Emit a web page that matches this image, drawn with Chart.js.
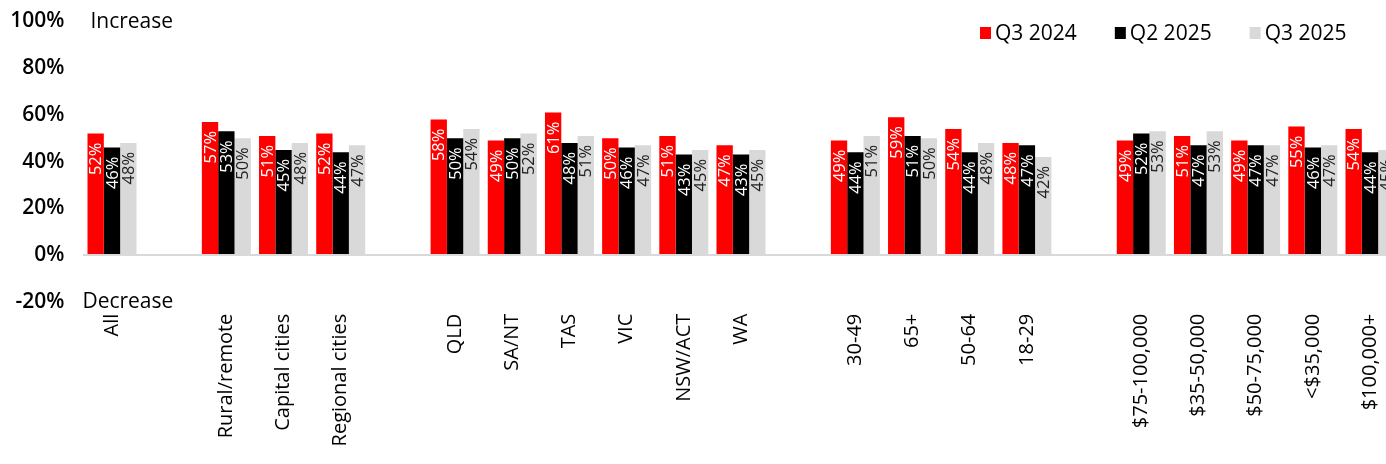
<!DOCTYPE html>
<html lang="en">
<head>
  <meta charset="UTF-8" />
  <title>Increase / Decrease by segment</title>
  <script src="https://cdn.jsdelivr.net/npm/chart.js"></script>
  <style>
    html, body {
      margin: 0;
      padding: 0;
      background: #fff;
      overflow: hidden;
    }
    .chart-box {
      position: relative;
      width: 1400px;
      height: 464px;
    }
  </style>
</head>
<body>
  <div class="chart-box">
    <canvas id="segChart"></canvas>
  </div>

  <script>
    // categories, blanks are the gaps between groups
    const categories = [
      "All", "",
      "Rural/remote", "Capital cities", "Regional cities", "",
      "QLD", "SA/NT", "TAS", "VIC", "NSW/ACT", "WA", "",
      "30-49", "65+", "50-64", "18-29", "",
      "$75-100,000", "$35-50,000", "$50-75,000", "<$35,000", "$100,000+"
    ];

    const q3_2024 = [52, null, 57, 51, 52, null, 58, 49, 61, 50, 51, 47, null, 49, 59, 54, 48, null, 49, 51, 49, 55, 54];
    const q2_2025 = [46, null, 53, 45, 44, null, 50, 50, 48, 46, 43, 43, null, 44, 51, 44, 47, null, 52, 47, 47, 46, 44];
    const q3_2025 = [48, null, 50, 48, 47, null, 54, 52, 51, 47, 45, 45, null, 51, 50, 48, 42, null, 53, 53, 47, 47, 45];

    const seriesNames = ["Q3 2024", "Q2 2025", "Q3 2025"];
    const seriesColors = ["#ff0000", "#000000", "#d9d9d9"];
    const labelColors = ["#ffffff", "#ffffff", "#222222"];

    const yTicks = [-20, 0, 20, 40, 60, 80, 100];

    const FONT = "'Open Sans', 'Noto Sans', sans-serif";

    // value labels written up the inside of each bar
    const barLabels = {
      id: "barLabels",
      afterDatasetsDraw(chart) {
        const ctx = chart.ctx;
        ctx.save();
        ctx.font = "16.5px " + FONT;
        ctx.textAlign = "right";
        ctx.textBaseline = "middle";
        chart.data.datasets.forEach((ds, i) => {
          const meta = chart.getDatasetMeta(i);
          meta.data.forEach((bar, j) => {
            const v = ds.data[j];
            if (v === null) return;
            ctx.save();
            ctx.translate(bar.x, bar.y + 9);
            ctx.rotate(-Math.PI / 2);
            ctx.fillStyle = labelColors[i];
            ctx.fillText(v + "%", 0, 1);
            ctx.restore();
          });
        });
        ctx.restore();
      }
    };

    // "Increase" / "Decrease" notes and the legend row
    const notes = {
      id: "notes",
      afterDraw(chart) {
        const ctx = chart.ctx;
        const y = chart.scales.y;
        const left = chart.chartArea.left;
        ctx.save();
        ctx.fillStyle = "#000";
        ctx.font = "21px " + FONT;
        ctx.textBaseline = "middle";
        ctx.textAlign = "left";
        ctx.fillText("Increase", left + 7, y.getPixelForValue(100) + 1);
        ctx.fillText("Decrease", left - 1, y.getPixelForValue(-20));

        let x = 980;
        const ly = 33;
        seriesNames.forEach((name, i) => {
          ctx.fillStyle = seriesColors[i];
          ctx.fillRect(x, ly - 6, 11, 12);
          ctx.fillStyle = "#000";
          ctx.fillText(name, x + 15, ly + 1);
          x += 15 + ctx.measureText(name).width + 38;
        });
        ctx.restore();
      }
    };

    new Chart(document.getElementById("segChart"), {
      type: "bar",
      data: {
        labels: categories,
        datasets: seriesNames.map((name, i) => ({
          label: name,
          data: [q3_2024, q2_2025, q3_2025][i],
          backgroundColor: seriesColors[i],
          borderWidth: 0,
          categoryPercentage: 0.857,
          barPercentage: 1
        }))
      },
      options: {
        responsive: true,
        maintainAspectRatio: false,
        animation: false,
        layout: { padding: { top: 21.5, right: 1.4, left: 0, bottom: 0 } },
        plugins: {
          legend: { display: false },
          tooltip: { enabled: false }
        },
        scales: {
          x: {
            grid: { display: false },
            border: { display: false },
            afterFit(scale) { scale.height = 162.3; },
            ticks: {
              autoSkip: false,
              maxRotation: 90,
              minRotation: 90,
              padding: 4,
              color: "#000",
              font: { family: FONT, size: 20, weight: "500" }
            }
          },
          y: {
            min: -20,
            max: 100,
            border: { display: false },
            afterFit(scale) {
              scale.width = 83.4;
              // tick padding would otherwise push the plot top down
              scale.paddingTop = 0;
              scale.paddingBottom = 0;
            },
            afterBuildTicks(scale) { scale.ticks = yTicks.map(v => ({ value: v })); },
            grid: {
              drawTicks: false,
              lineWidth: 2,
              color: c => c.tick && c.tick.value === 0 ? "#d9d9d9" : "rgba(0,0,0,0)"
            },
            ticks: {
              padding: 19,
              color: "#000",
              font: { family: FONT, size: 21, weight: "600" },
              callback: v => v + "%"
            }
          }
        }
      },
      plugins: [barLabels, notes]
    });
  </script>
</body>
</html>
